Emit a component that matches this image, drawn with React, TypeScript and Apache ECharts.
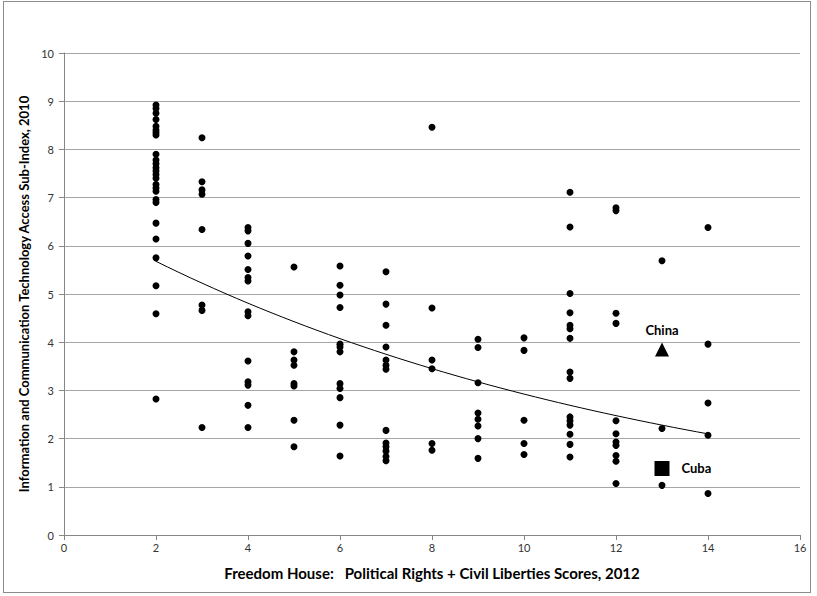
import React, { useEffect, useRef } from "react";
import * as echarts from "echarts";

// Freedom House score columns -> ICT access sub-index values
const score2 = [8.92, 8.85, 8.75, 8.62, 8.48, 8.4, 8.35, 8.3, 7.9, 7.78, 7.7, 7.62, 7.55, 7.48, 7.4, 7.27, 7.2, 7.13, 6.96, 6.9, 6.47, 6.14, 5.75, 5.17, 4.59, 2.82];
const score3 = [8.24, 7.33, 7.16, 7.07, 6.34, 4.77, 4.66, 2.23];
const score4 = [6.38, 6.31, 6.05, 5.79, 5.51, 5.34, 5.27, 4.63, 4.55, 3.61, 3.18, 3.11, 2.69, 2.23];
const score5 = [5.56, 3.8, 3.63, 3.52, 3.14, 3.09, 2.38, 1.83];
const score6 = [5.58, 5.18, 4.98, 4.72, 3.96, 3.9, 3.8, 3.14, 3.04, 2.85, 2.28, 1.64];
const score7 = [5.46, 4.79, 4.35, 3.9, 3.63, 3.52, 3.44, 2.17, 1.91, 1.83, 1.74, 1.63, 1.54];
const score8 = [8.46, 4.71, 3.63, 3.45, 1.9, 1.76];
const score9 = [4.06, 3.89, 3.16, 2.53, 2.4, 2.26, 2.0, 1.59];
const score10 = [4.09, 3.83, 2.38, 1.9, 1.67];
const score11 = [7.11, 6.39, 5.01, 4.61, 4.35, 4.28, 4.08, 3.38, 3.25, 2.45, 2.37, 2.28, 2.09, 1.88, 1.62];
const score12 = [6.79, 6.73, 4.6, 4.39, 2.37, 2.1, 1.93, 1.86, 1.65, 1.53, 1.07];
const score13 = [5.69, 2.21, 1.03];
const score14 = [6.38, 3.96, 2.74, 2.07, 0.86];

const columns: [number, number[]][] = [
  [2, score2], [3, score3], [4, score4], [5, score5], [6, score6], [7, score7],
  [8, score8], [9, score9], [10, score10], [11, score11], [12, score12], [13, score13], [14, score14],
];

const chinaPoint = [13, 3.85];
const cubaPoint = [13, 1.38];

const xTicks = [0, 2, 4, 6, 8, 10, 12, 14, 16];
const yTicks = [0, 1, 2, 3, 4, 5, 6, 7, 8, 9, 10];

export default function App() {
  const ref = useRef<HTMLDivElement>(null);
  useEffect(() => {
    if (!ref.current) return;
    const chart = echarts.init(ref.current, null, { renderer: "svg" });
    const points: number[][] = [];
    columns.forEach(([x, ys]) => ys.forEach((y) => points.push([x, y])));

    // Exponential trendline (least squares on ln y), as a spreadsheet would fit
    const n = points.length;
    let sx = 0, sy = 0, sxx = 0, sxy = 0;
    points.forEach(([x, y]) => {
      const ly = Math.log(y);
      sx += x; sy += ly; sxx += x * x; sxy += x * ly;
    });
    const b = (n * sxy - sx * sy) / (n * sxx - sx * sx);
    const a = Math.exp((sy - b * sx) / n);
    const trend: number[][] = [];
    for (let i = 0; i <= 48; i++) {
      const x = 2 + i * 0.25;
      trend.push([x, a * Math.exp(b * x)]);
    }

    const font = "Lato, 'Open Sans', sans-serif";
    chart.setOption({
      animation: false,
      backgroundColor: "#ffffff",
      grid: { left: 64, right: 17, top: 53, bottom: 61 },
      xAxis: {
        type: "value",
        min: xTicks[0],
        max: xTicks[xTicks.length - 1],
        interval: 2,
        name: "Freedom House:   Political Rights + Civil Liberties Scores, 2012",
        nameLocation: "middle",
        nameGap: 30,
        nameTextStyle: { fontFamily: font, fontWeight: "bold", fontSize: 15, color: "#000" },
        axisLine: { show: true, lineStyle: { color: "#868686", width: 1 } },
        axisTick: { show: true, length: 5, lineStyle: { color: "#868686" } },
        axisLabel: { fontFamily: font, fontSize: 11, color: "#333", margin: 7 },
        splitLine: { show: false },
      },
      yAxis: {
        type: "value",
        min: yTicks[0],
        max: yTicks[yTicks.length - 1],
        interval: 1,
        name: "Information and Communication Technology Access Sub-Index, 2010",
        nameLocation: "middle",
        nameGap: 33,
        nameTextStyle: { fontFamily: font, fontWeight: "bold", fontSize: 13, color: "#000" },
        axisLine: { show: true, lineStyle: { color: "#868686", width: 1 } },
        axisTick: { show: true, length: 5, lineStyle: { color: "#868686" } },
        axisLabel: { fontFamily: font, fontSize: 11, color: "#333", margin: 10 },
        splitLine: { show: true, lineStyle: { color: "#a6a6a6", width: 1 } },
      },
      series: [
        {
          type: "line",
          data: trend,
          showSymbol: false,
          symbol: "none",
          smooth: false,
          lineStyle: { color: "#000", width: 1 },
          z: 2,
        },
        {
          type: "scatter",
          data: points,
          symbol: "circle",
          symbolSize: 7,
          itemStyle: { color: "#000", opacity: 1 },
          z: 3,
        },
        {
          type: "scatter",
          data: [chinaPoint],
          symbol: "triangle",
          symbolSize: 14,
          itemStyle: { color: "#000", opacity: 1 },
          label: {
            show: true,
            formatter: "China",
            position: "top",
            distance: 6,
            fontFamily: font,
            fontWeight: "bold",
            fontSize: 13,
            color: "#000",
          },
          z: 3,
        },
        {
          type: "scatter",
          data: [cubaPoint],
          symbol: "rect",
          symbolSize: 15,
          itemStyle: { color: "#000", opacity: 1 },
          label: {
            show: true,
            formatter: "Cuba",
            position: "right",
            distance: 12,
            fontFamily: font,
            fontWeight: "bold",
            fontSize: 13,
            color: "#000",
          },
          z: 3,
        },
      ],
    });
    return () => chart.dispose();
  }, []);
  return (
    <div
      style={{
        position: "fixed",
        left: 0,
        top: 0,
        width: 817,
        height: 596,
        background: "#fff",
      }}
    >
      <div
        style={{
          position: "absolute",
          left: 3,
          top: 1,
          width: 808,
          height: 592,
          border: "1px solid #8c8c8c",
          boxSizing: "border-box",
          pointerEvents: "none",
          zIndex: 2,
        }}
      />
      <div ref={ref} style={{ position: "absolute", left: 0, top: 0, width: 817, height: 596 }} />
    </div>
  );
}
